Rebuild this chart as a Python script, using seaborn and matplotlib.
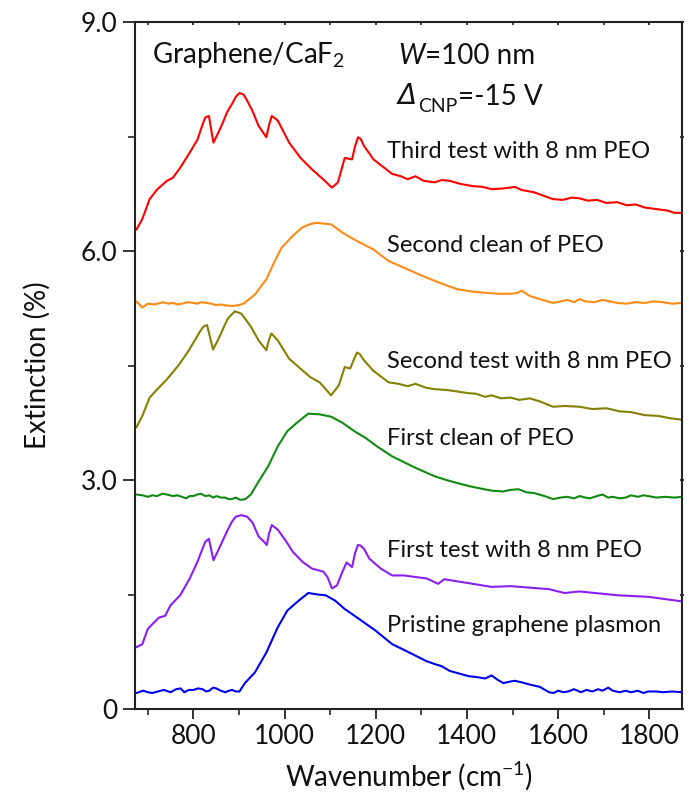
import numpy as np
import pandas as pd
import matplotlib
matplotlib.use("Agg")
import matplotlib.pyplot as plt
import seaborn as sns

# ---------------- data ----------------
pristine_x = [675, 690, 700, 710, 722, 735, 750, 762, 772, 780, 790, 800, 810, 820, 828, 835, 843, 850,
              860, 870, 878, 885, 893, 901, 913, 935, 960, 985,
              1006, 1031, 1052, 1073, 1090, 1111, 1132, 1161, 1199, 1236, 1260, 1287, 1310, 1329, 1345,
              1362, 1380, 1404, 1420, 1440, 1454, 1468, 1480, 1495, 1505, 1520, 1538, 1560, 1580, 1590,
              1600, 1612, 1622, 1635, 1650, 1662, 1675, 1688, 1697, 1710, 1720, 1735, 1748, 1760,
              1775, 1787, 1798, 1815, 1830, 1850, 1872]
pristine_y = [0.21, 0.24, 0.22, 0.21, 0.23, 0.25, 0.22, 0.26, 0.27, 0.22, 0.25, 0.25, 0.27, 0.26, 0.23,
              0.24, 0.28, 0.27, 0.24, 0.22, 0.24, 0.25, 0.23, 0.23, 0.34,
              0.48, 0.74, 1.07, 1.29, 1.42, 1.52, 1.50, 1.49, 1.42, 1.31, 1.19, 1.03, 0.85, 0.78, 0.70,
              0.63, 0.59, 0.56, 0.50, 0.47, 0.43, 0.42, 0.40, 0.44, 0.38, 0.34, 0.36, 0.37, 0.35, 0.32,
              0.29, 0.22, 0.21, 0.24, 0.22, 0.23, 0.26, 0.22, 0.25, 0.23, 0.26, 0.24, 0.28, 0.24, 0.22,
              0.24, 0.22, 0.24, 0.21, 0.23, 0.23, 0.22, 0.23, 0.22]

test1_x = [675, 688, 700, 713, 725, 738, 750, 771, 792, 809, 820, 826, 834, 844, 853, 863, 874, 884,
           893, 905, 918, 930, 943, 955, 961, 966, 972, 985, 1002, 1018, 1039, 1060, 1085, 1094, 1104,
           1115, 1127, 1136, 1148, 1155, 1161, 1167, 1174, 1186, 1211, 1236, 1262, 1287, 1312, 1337,
           1350, 1413, 1454, 1496, 1580, 1614, 1647, 1731, 1798, 1872]
test1_y = [0.81, 0.85, 1.05, 1.13, 1.20, 1.22, 1.36, 1.49, 1.71, 1.93, 2.10, 2.19, 2.23, 1.95, 2.06,
           2.19, 2.33, 2.45, 2.52, 2.54, 2.52, 2.44, 2.26, 2.19, 2.15, 2.30, 2.41, 2.35, 2.21, 2.06,
           1.93, 1.84, 1.80, 1.73, 1.58, 1.62, 1.80, 1.92, 1.86, 2.05, 2.15, 2.14, 2.10, 1.97, 1.84,
           1.75, 1.75, 1.73, 1.71, 1.64, 1.70, 1.64, 1.60, 1.61, 1.57, 1.52, 1.54, 1.49, 1.47, 1.41]

clean1_x = [675, 688, 700, 710, 720, 732, 742, 755, 765, 775, 784, 792, 800, 808, 817, 826, 835, 843,
            851, 860, 870, 877, 884, 893, 903, 914, 926, 943, 964, 985, 1006,
            1027, 1052, 1077, 1102, 1127, 1153, 1178, 1203, 1236, 1260, 1287, 1310, 1329, 1355, 1379,
            1405, 1429, 1455, 1480, 1495, 1513, 1530, 1547, 1570, 1589, 1605, 1620, 1635, 1647, 1660,
            1670, 1685, 1697, 1710, 1720, 1735, 1748, 1760, 1775, 1787, 1798, 1815, 1835, 1855, 1872]
clean1_y = [2.81, 2.80, 2.78, 2.80, 2.79, 2.82, 2.81, 2.79, 2.80, 2.78, 2.76, 2.79, 2.79, 2.81, 2.82,
            2.79, 2.80, 2.77, 2.79, 2.77, 2.77, 2.75, 2.75, 2.77, 2.74, 2.75, 2.81, 2.98,
            3.18, 3.44, 3.64, 3.75, 3.87, 3.86, 3.83, 3.75, 3.64, 3.55, 3.44, 3.31, 3.24, 3.16, 3.10,
            3.05, 3.00, 2.96, 2.92, 2.89, 2.86, 2.85, 2.87, 2.88, 2.84, 2.83, 2.79, 2.75, 2.77, 2.78,
            2.76, 2.79, 2.77, 2.76, 2.79, 2.81, 2.77, 2.78, 2.76, 2.77, 2.80, 2.78, 2.80, 2.79, 2.77,
            2.78, 2.77, 2.78]

test2_x = [675, 688, 704, 721, 742, 767, 788, 805, 815, 822, 830, 843, 851, 859, 868, 876, 891, 905,
           915, 926, 943, 960, 965, 971, 985, 1010, 1031, 1056, 1077, 1102, 1119, 1132, 1144, 1152,
           1159, 1165, 1174, 1195, 1228, 1250,
           1270, 1287, 1310, 1329, 1355, 1379, 1400, 1420, 1440, 1454, 1475, 1495, 1515, 1538, 1560,
           1589, 1615, 1647, 1675, 1706, 1735, 1760, 1790, 1820, 1845, 1872]
test2_y = [3.69, 3.84, 4.08, 4.19, 4.32, 4.50, 4.68, 4.85, 4.95, 5.01, 5.03, 4.71, 4.80, 4.90, 5.02,
           5.12, 5.21, 5.18, 5.10, 5.01, 4.83, 4.70, 4.82, 4.92, 4.83, 4.59, 4.48, 4.35, 4.28, 4.11,
           4.24, 4.48, 4.46, 4.58, 4.67, 4.65, 4.57,
           4.43, 4.28, 4.26, 4.23, 4.26, 4.21, 4.19, 4.18, 4.16, 4.14, 4.13, 4.09, 4.11, 4.07, 4.08,
           4.05, 4.07, 4.03, 3.96, 3.97, 3.96, 3.93, 3.94, 3.90, 3.89, 3.85, 3.84, 3.81, 3.79]

clean2_x = [675, 688, 700, 715, 734, 745, 755, 765, 775, 788, 800, 808, 817, 828, 840, 850, 859, 870,
            884, 898, 910, 935, 960, 977, 993, 1018, 1039, 1055,
            1069, 1085, 1102, 1127, 1153, 1195, 1228, 1270, 1300, 1329, 1355, 1379, 1410, 1446, 1470,
            1496, 1510, 1520, 1538, 1560, 1589, 1605, 1620, 1635, 1647, 1660, 1680, 1697, 1714, 1730,
            1750, 1770, 1790, 1810, 1830, 1850, 1872]
clean2_y = [5.34, 5.26, 5.31, 5.30, 5.33, 5.31, 5.32, 5.30, 5.31, 5.33, 5.32, 5.31, 5.33, 5.32, 5.31,
            5.29, 5.30, 5.29, 5.28, 5.29, 5.31, 5.43, 5.63, 5.85,
            6.04, 6.20, 6.31, 6.35, 6.37, 6.36, 6.35, 6.24, 6.15, 6.02, 5.87, 5.76, 5.68, 5.61, 5.55,
            5.50, 5.47, 5.45, 5.44, 5.44, 5.45, 5.48, 5.41, 5.37, 5.32, 5.34, 5.36, 5.33, 5.37, 5.34,
            5.33, 5.36, 5.34, 5.32, 5.31, 5.33, 5.32, 5.34, 5.33, 5.31, 5.32]

test3_x = [675, 688, 704, 721, 742, 755, 771, 792, 809, 818, 826, 834, 844, 853, 863, 874, 884, 893,
           901, 910, 918, 930, 943, 960, 966,
           972, 985, 1010, 1035, 1060, 1081, 1104, 1117, 1132, 1148, 1155, 1161, 1167, 1174, 1195,
           1236, 1255, 1270, 1287, 1305, 1329, 1345, 1362, 1385, 1413, 1435, 1454, 1480, 1505, 1520,
           1547, 1570, 1589, 1610, 1630, 1647, 1665, 1685, 1706, 1730, 1750, 1770, 1790, 1815, 1840,
           1855, 1872]
test3_y = [6.28, 6.42, 6.68, 6.81, 6.92, 6.96, 7.09, 7.29, 7.46, 7.62, 7.75, 7.77, 7.42, 7.53, 7.66,
           7.82, 7.92, 8.02, 8.07, 8.05, 7.97, 7.83, 7.64, 7.49, 7.65,
           7.77, 7.71, 7.42, 7.22, 7.07, 6.96, 6.83, 6.90, 7.22, 7.20, 7.38, 7.49, 7.47, 7.38, 7.20,
           7.01, 6.98, 6.94, 6.98, 6.92, 6.90, 6.93, 6.92, 6.88, 6.85, 6.84, 6.81, 6.82, 6.84, 6.80,
           6.77, 6.72, 6.68, 6.67, 6.70, 6.69, 6.66, 6.67, 6.63, 6.64, 6.60, 6.61, 6.57, 6.55, 6.53,
           6.50, 6.50]

series_names = ["Pristine graphene plasmon", "First test with 8 nm PEO", "First clean of PEO",
                "Second test with 8 nm PEO", "Second clean of PEO", "Third test with 8 nm PEO"]
series_x = [pristine_x, test1_x, clean1_x, test2_x, clean2_x, test3_x]
series_y = [pristine_y, test1_y, clean1_y, test2_y, clean2_y, test3_y]
series_colors = ["#0000f0", "#8b1ef0", "#118a11", "#858000", "#ff8a14", "#ff0000"]
label_y = [1.10, 2.08, 3.55, 4.55, 6.07, 7.30]

y_ticks = [0, 3.0, 6.0, 9.0]
y_ticklabels = ["0", "3.0", "6.0", "9.0"]
y_minor = [1.5, 4.5, 7.5]
x_ticks = [800, 1000, 1200, 1400, 1600, 1800]
x_minor = [700, 900, 1100, 1300, 1500, 1700]

# ---------------- plotting ----------------
sns.set_theme(style="white")
plt.rcParams["font.family"] = ["Lato", "DejaVu Sans"]
plt.rcParams["mathtext.fontset"] = "custom"
plt.rcParams["mathtext.rm"] = "Lato"
plt.rcParams["mathtext.it"] = "Lato:italic"

fig = plt.figure(figsize=(6.89, 8.07), dpi=100)
ax = fig.add_axes([0.196, 0.1214, 0.794, 0.8513])

frames = []
for name, xs, ys in zip(series_names, series_x, series_y):
    frames.append(pd.DataFrame({"Wavenumber": xs, "Extinction": ys, "series": name}))
df = pd.concat(frames, ignore_index=True)

sns.lineplot(data=df, x="Wavenumber", y="Extinction", hue="series", hue_order=series_names,
             palette=series_colors, estimator=None, sort=False, linewidth=1.5, legend=False, ax=ax)

for name, c, ly in zip(series_names, series_colors, label_y):
    ax.text(1224, ly, name, fontsize=17, color="#111111", va="center", ha="left")

ink = "#111111"
ax.text(710, 8.57, "Graphene/CaF$_2$", fontsize=20, color=ink, va="center", ha="left")
tw = ax.text(1249, 8.45, "W", fontsize=20, color=ink, va="baseline", ha="left", style="italic")
ax.annotate("=100 nm", xy=(1.0, 0.0), xycoords=tw, fontsize=20, color=ink,
            va="bottom", ha="left")
td = ax.text(1249, 7.93, "Δ", fontsize=20, color=ink, va="baseline", ha="left",
             family=["DejaVu Sans"], style="italic")
tc = ax.annotate("CNP", xy=(1.0, 0.0), xycoords=td, xytext=(1, -4), textcoords="offset points",
                 fontsize=14, color=ink, va="bottom", ha="left")
ax.annotate("=-15 V", xy=(1.0, 0.0), xycoords=(tc, td), fontsize=20, color=ink,
            va="bottom", ha="left")

ax.set_xlim(672, 1872)
ax.set_ylim(0, 9.0)
ax.set_yticks(y_ticks)
ax.set_yticklabels(y_ticklabels)
ax.set_yticks(y_minor, minor=True)
ax.set_xticks(x_ticks)
ax.set_xticks(x_minor, minor=True)

ax.set_xlabel("Wavenumber (cm$^{-1}$)", fontsize=20, color=ink, labelpad=8)
ax.set_ylabel("Extinction (%)", fontsize=20, color=ink, labelpad=22)

for sp in ax.spines.values():
    sp.set_linewidth(1.5)
    sp.set_color("#222222")

ax.tick_params(axis="both", which="major", labelsize=19, colors=ink)
ax.tick_params(axis="x", which="major", bottom=True, direction="out", length=7, width=1.2)
ax.tick_params(axis="x", which="minor", bottom=True, direction="out", length=4, width=1.2)
ax.tick_params(axis="x", which="both", top=True, labeltop=False)
ax.tick_params(axis="y", which="major", left=True, direction="out", length=9, width=1.2)
ax.tick_params(axis="y", which="minor", left=True, direction="out", length=5, width=1.2)
ax.tick_params(axis="y", which="both", right=True, labelright=False)

# top and right ticks are short
for tick in ax.xaxis.get_major_ticks() + ax.xaxis.get_minor_ticks():
    tick.tick2line.set_markersize(2.5)
    tick.tick2line.set_marker(3)
for tick in ax.yaxis.get_major_ticks() + ax.yaxis.get_minor_ticks():
    tick.tick2line.set_markersize(3)
    tick.tick2line.set_marker("_")

fig.savefig("out.png", dpi=100)
